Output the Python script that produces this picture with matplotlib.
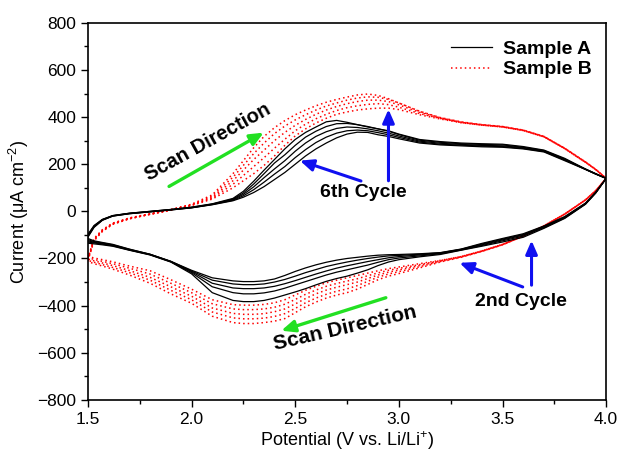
import matplotlib
matplotlib.use("Agg")
import matplotlib.pyplot as plt
from matplotlib.ticker import MultipleLocator

plt.rcParams["font.family"] = ["Liberation Sans", "DejaVu Sans"]
plt.rcParams["mathtext.fontset"] = "custom"
plt.rcParams["mathtext.rm"] = "Liberation Sans"

# potential grid shared by both sweep branches (V vs. Li/Li+)
potential = [1.50, 1.53, 1.57, 1.62, 1.70, 1.80, 1.90, 2.00, 2.10, 2.20,
             2.25, 2.30, 2.35, 2.40, 2.45, 2.50, 2.55, 2.60, 2.65, 2.70,
             2.75, 2.80, 2.85, 2.90, 2.95, 3.00, 3.10, 3.20, 3.30, 3.40,
             3.50, 3.60, 3.70, 3.80, 3.90, 3.95, 4.00]

# Sample A, anodic sweep (uA cm-2), cycles 2..6
a_anodic = [
    [-98, -60, -34, -18, -8, 0, 8, 18, 32, 55, 85, 128, 175, 220, 265, 305, 335, 358, 380, 386,
     378, 368, 358, 350, 342, 328, 305, 296, 290, 287, 285, 275, 260, 225, 180, 160, 140],
    [-101, -62, -35, -18, -8, 0, 8, 17, 31, 52, 78, 116, 160, 205, 240, 280, 315, 340, 360, 372,
     373, 368, 360, 350, 340, 326, 302, 293, 287, 284, 282, 272, 258, 222, 179, 159, 140],
    [-104, -64, -36, -19, -9, -1, 7, 16, 30, 50, 72, 104, 143, 180, 215, 255, 290, 318, 338, 352,
     358, 356, 350, 342, 332, 320, 298, 289, 284, 280, 278, 270, 256, 220, 179, 159, 140],
    [-107, -66, -37, -20, -10, -2, 6, 15, 29, 47, 66, 92, 124, 158, 190, 228, 262, 292, 315, 332,
     342, 345, 342, 334, 325, 314, 294, 285, 281, 277, 275, 267, 254, 218, 178, 158, 140],
    [-110, -68, -38, -20, -10, -2, 6, 15, 28, 45, 60, 80, 105, 135, 165, 200, 235, 265, 290, 312,
     328, 336, 335, 325, 318, 308, 290, 282, 278, 274, 272, 265, 252, 215, 178, 158, 140],
]

# Sample A, cathodic sweep (same potential grid), cycles 2..6
a_cathodic = [
    [-135, -138, -142, -148, -165, -185, -215, -265, -345, -378, -383, -383, -378, -368, -355, -342,
     -328, -312, -297, -285, -275, -262, -248, -230, -215, -205, -193, -183, -165, -148, -130, -110,
     -72, -30, 30, 78, 140],
    [-130, -134, -139, -146, -164, -184, -214, -260, -320, -345, -350, -350, -346, -338, -326, -312,
     -298, -284, -270, -258, -248, -238, -228, -216, -205, -198, -189, -180, -164, -145, -125, -105,
     -69, -28, 31, 79, 140],
    [-125, -131, -137, -144, -163, -183, -213, -256, -305, -325, -328, -328, -325, -318, -307, -294,
     -280, -266, -253, -241, -231, -222, -213, -205, -197, -192, -185, -178, -162, -142, -121, -101,
     -66, -26, 32, 80, 140],
    [-120, -128, -134, -142, -161, -182, -212, -253, -292, -308, -311, -311, -308, -300, -289, -275,
     -260, -247, -234, -224, -215, -207, -200, -194, -189, -187, -182, -176, -161, -139, -118, -98,
     -64, -24, 34, 81, 140],
    [-115, -125, -132, -140, -160, -182, -212, -250, -282, -295, -298, -298, -295, -287, -272, -255,
     -240, -227, -216, -207, -200, -195, -190, -186, -184, -183, -180, -175, -160, -136, -115, -95,
     -62, -22, 35, 82, 140],
]

# Sample B, anodic sweep, cycles 2..6
b_anodic = [
    [-200, -115, -78, -50, -28, -10, 8, 30, 70, 160, 215, 270, 318, 355, 385, 410, 430, 448, 463, 475,
     485, 494, 498, 492, 478, 460, 425, 398, 380, 368, 360, 345, 318, 268, 210, 178, 140],
    [-202, -117, -80, -51, -29, -11, 7, 29, 65, 145, 195, 245, 290, 330, 362, 388, 410, 430, 447, 460,
     472, 481, 486, 484, 475, 460, 424, 397, 379, 368, 360, 345, 318, 268, 210, 178, 140],
    [-205, -120, -82, -52, -30, -12, 6, 27, 60, 130, 175, 220, 260, 300, 335, 365, 390, 412, 430, 445,
     457, 466, 472, 472, 466, 452, 420, 396, 378, 367, 359, 344, 317, 267, 209, 177, 140],
    [-207, -122, -84, -54, -31, -12, 5, 26, 56, 115, 152, 190, 228, 268, 306, 342, 370, 393, 412, 428,
     440, 448, 454, 457, 453, 442, 415, 394, 377, 366, 358, 343, 316, 266, 208, 177, 140],
    [-210, -125, -85, -55, -32, -13, 5, 25, 52, 100, 130, 160, 195, 235, 280, 320, 350, 375, 395, 412,
     422, 430, 435, 438, 438, 432, 410, 392, 376, 366, 358, 343, 316, 266, 208, 177, 140],
]

# Sample B, cathodic sweep, cycles 2..6
b_cathodic = [
    [-213, -222, -232, -245, -270, -305, -350, -390, -445, -472, -476, -476, -472, -466, -455, -430,
     -405, -385, -368, -355, -345, -330, -310, -290, -275, -264, -240, -215, -195, -170, -142, -105,
     -62, -12, 48, 88, 140],
    [-208, -216, -226, -238, -260, -292, -335, -375, -427, -452, -456, -456, -453, -446, -434, -412,
     -388, -368, -352, -339, -329, -315, -297, -279, -266, -256, -235, -213, -194, -170, -142, -105,
     -62, -12, 48, 88, 140],
    [-202, -210, -219, -230, -251, -280, -320, -360, -410, -433, -437, -437, -434, -426, -414, -393,
     -370, -350, -334, -322, -311, -300, -285, -270, -258, -249, -230, -211, -193, -169, -141, -105,
     -62, -12, 48, 88, 140],
    [-196, -204, -212, -222, -241, -266, -305, -345, -392, -414, -417, -417, -414, -407, -394, -374,
     -352, -334, -318, -306, -296, -286, -273, -261, -250, -242, -226, -209, -192, -168, -140, -104,
     -61, -11, 49, 88, 140],
    [-190, -198, -205, -214, -232, -252, -290, -330, -375, -396, -398, -398, -395, -388, -375, -355,
     -335, -318, -303, -292, -282, -272, -262, -252, -243, -236, -222, -208, -192, -168, -140, -104,
     -61, -11, 49, 88, 140],
]

fig = plt.figure(figsize=(6.23, 4.57), dpi=100)
ax = fig.add_axes([0.141, 0.125, 0.832, 0.825])

loop_x = potential + potential[::-1]
for i, (up, down) in enumerate(zip(b_anodic, b_cathodic)):
    ax.plot(loop_x, up + down[::-1], color="red", linestyle=(0, (1, 2)), lw=1.1,
            label="Sample B" if i == 0 else None, zorder=2)
for i, (up, down) in enumerate(zip(a_anodic, a_cathodic)):
    ax.plot(loop_x, up + down[::-1], color="black", lw=0.9,
            label="Sample A" if i == 0 else None, zorder=3)

ax.set_xlim(1.5, 4.0)
ax.set_ylim(-800, 800)
ax.xaxis.set_major_locator(MultipleLocator(0.5))
ax.xaxis.set_minor_locator(MultipleLocator(0.25))
ax.yaxis.set_major_locator(MultipleLocator(200))
ax.yaxis.set_minor_locator(MultipleLocator(100))
ax.xaxis.set_major_formatter(plt.FormatStrFormatter("%.1f"))
ax.tick_params(which="both", direction="out", top=False, right=False, labelsize=12.5)
ax.tick_params(which="major", length=5, width=1)
ax.tick_params(which="minor", length=3, width=1)
for s in ax.spines.values():
    s.set_linewidth(1.2)

ax.set_xlabel("Potential (V vs. Li/Li$^{+}$)", fontsize=13, labelpad=2)
ax.set_ylabel("Current (\u03bcA cm$^{-2}$)", fontsize=13, labelpad=4)

handles, labels = ax.get_legend_handles_labels()
order = [labels.index("Sample A"), labels.index("Sample B")]
ax.legend([handles[k] for k in order], [labels[k] for k in order], loc="upper right",
          frameon=False, prop={"weight": "bold", "size": 14}, handlelength=2.1,
          handletextpad=0.6, borderaxespad=0.2, labelspacing=0.15,
          bbox_to_anchor=(0.995, 0.985))

blue = dict(arrowstyle="-|>,head_length=0.8,head_width=0.35", color="#1010f0", lw=2.2)
green = dict(arrowstyle="-|>,head_length=0.8,head_width=0.35", color="#22e022", lw=2.4)

ax.text(2.08, 295, "Scan Direction", rotation=29, fontsize=14.5, fontweight="bold",
        ha="center", va="center")
ax.annotate("", xy=(2.36, 340), xytext=(1.88, 100), arrowprops=green)

ax.text(2.74, -495, "Scan Direction", rotation=13, fontsize=15, fontweight="bold",
        ha="center", va="center")
ax.annotate("", xy=(2.42, -510), xytext=(2.95, -363), arrowprops=green)

ax.text(2.83, 80, "6th Cycle", fontsize=14, fontweight="bold", ha="center", va="center")
ax.annotate("", xy=(2.51, 219), xytext=(2.83, 125), arrowprops=blue)
ax.annotate("", xy=(2.95, 445), xytext=(2.95, 118), arrowprops=blue)

ax.text(3.59, -384, "2nd Cycle", fontsize=14, fontweight="bold", ha="center", va="center")
ax.annotate("", xy=(3.28, -214), xytext=(3.61, -325), arrowprops=blue)
ax.annotate("", xy=(3.64, -112), xytext=(3.64, -325), arrowprops=blue)

fig.savefig("out.png", dpi=100)
